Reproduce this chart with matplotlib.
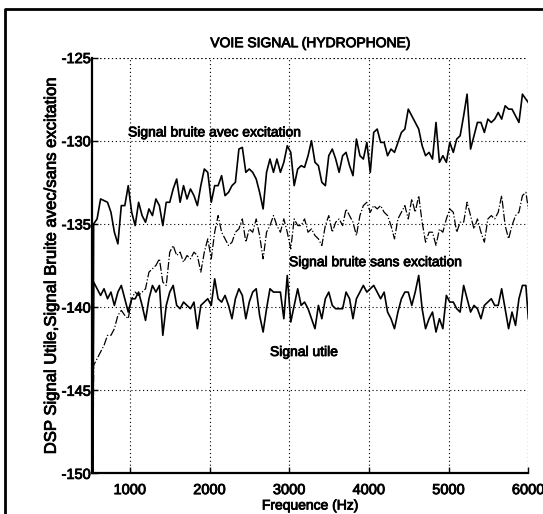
import numpy as np
import matplotlib
matplotlib.use("Agg")
import matplotlib.pyplot as plt
import matplotlib.patheffects as pe
from matplotlib.lines import Line2D

plt.rcParams['font.family'] = ['Liberation Sans', 'DejaVu Sans']

# frequency bins (Hz); first bin sits on the left edge of the band
freq_hz = [530,
    544, 587, 631, 674, 718, 761, 804, 848, 891, 935,
    978, 1021, 1065, 1108, 1152, 1195, 1238, 1282, 1325, 1369,
    1412, 1455, 1499, 1542, 1586, 1629, 1672, 1716, 1759, 1803,
    1846, 1889, 1933, 1976, 2020, 2063, 2106, 2150, 2193, 2237,
    2280, 2323, 2367, 2410, 2454, 2497, 2540, 2584, 2627, 2671,
    2714, 2757, 2801, 2844, 2888, 2931, 2974, 3018, 3061, 3105,
    3148, 3191, 3235, 3278, 3322, 3365, 3408, 3452, 3495, 3539,
    3582, 3625, 3669, 3712, 3756, 3799, 3842, 3886, 3929, 3973,
    4016, 4059, 4103, 4146, 4190, 4233, 4276, 4320, 4363, 4407,
    4450, 4493, 4537, 4580, 4624, 4667, 4710, 4754, 4797, 4841,
    4884, 4927, 4971, 5014, 5058, 5101, 5144, 5188, 5231, 5275,
    5318, 5361, 5405, 5448, 5492, 5535, 5578, 5622, 5665, 5709,
    5752, 5795, 5839, 5882, 5926, 5969, 6000]

# PSD, noisy signal with excitation (dB)
dsp_avec = [-155.0,
    -135.0, -134.7, -133.5, -133.6, -133.7, -134.3, -135.5, -136.2, -133.9, -133.9,
    -132.7, -134.3, -135.1, -133.7, -134.5, -134.9, -134.1, -134.5, -133.5, -133.9,
    -135.1, -133.7, -133.7, -132.9, -132.3, -133.7, -132.7, -133.5, -132.9, -133.3,
    -133.9, -132.7, -131.7, -131.9, -133.7, -132.7, -132.7, -132.1, -133.3, -133.1,
    -132.7, -132.5, -130.5, -130.4, -131.9, -131.7, -131.9, -132.3, -133.1, -134.1,
    -131.9, -131.1, -131.9, -131.1, -131.9, -131.3, -130.3, -130.7, -132.7, -131.7,
    -131.5, -131.6, -130.9, -130.0, -131.3, -131.5, -132.5, -132.7, -130.9, -130.5,
    -131.1, -131.9, -130.9, -130.7, -131.5, -132.1, -129.9, -130.9, -131.1, -130.1,
    -131.9, -129.5, -129.3, -130.1, -130.1, -130.9, -130.5, -130.7, -130.1, -129.5,
    -129.3, -128.1, -128.5, -128.9, -129.3, -130.3, -130.9, -130.7, -131.1, -128.9,
    -131.3, -130.9, -131.3, -130.1, -130.7, -129.9, -129.7, -128.5, -127.2, -130.5,
    -129.7, -128.9, -128.9, -129.5, -128.7, -128.9, -128.7, -128.3, -128.7, -127.9,
    -128.1, -128.1, -128.5, -128.9, -127.2, -127.5, -127.7]

# PSD, noisy signal without excitation (dB)
dsp_sans = [-155.0,
    -143.5, -143.1, -142.7, -142.3, -141.7, -141.7, -141.3, -140.5, -140.2, -140.5,
    -140.7, -139.5, -139.1, -139.3, -139.1, -138.9, -137.9, -137.7, -137.5, -137.1,
    -138.5, -138.7, -136.7, -136.3, -136.9, -136.7, -137.3, -136.9, -137.1, -136.7,
    -136.9, -137.9, -136.7, -135.9, -137.1, -135.5, -134.5, -135.5, -135.9, -136.3,
    -136.1, -135.5, -135.3, -134.7, -136.1, -135.3, -135.5, -134.7, -135.7, -137.1,
    -135.5, -135.1, -134.5, -135.1, -135.5, -134.7, -135.5, -136.5, -134.7, -135.1,
    -135.1, -134.7, -135.5, -135.3, -135.7, -135.9, -136.3, -135.1, -134.5, -135.5,
    -134.9, -134.7, -135.1, -134.1, -134.5, -134.9, -135.7, -134.5, -133.9, -133.7,
    -134.3, -133.9, -134.1, -133.9, -134.3, -134.5, -135.1, -135.9, -134.7, -134.3,
    -133.9, -134.7, -133.5, -134.3, -133.3, -134.9, -136.1, -135.5, -135.5, -136.3,
    -135.3, -135.5, -134.7, -134.1, -134.3, -135.5, -134.9, -134.9, -133.7, -134.5,
    -135.3, -134.7, -135.5, -136.1, -134.7, -134.5, -134.7, -134.3, -133.3, -135.1,
    -135.9, -135.1, -134.5, -134.3, -133.3, -133.1, -134.1]

# PSD, useful signal (dB)
dsp_utile = [-155.0,
    -138.5, -138.9, -139.3, -138.9, -139.5, -139.1, -139.9, -139.1, -138.7, -139.5,
    -140.3, -139.5, -139.5, -139.1, -139.9, -140.8, -139.5, -138.7, -139.1, -138.7,
    -141.7, -139.9, -139.1, -138.7, -139.9, -140.1, -139.7, -139.9, -140.1, -139.7,
    -141.3, -139.9, -139.7, -139.5, -139.9, -138.3, -139.5, -139.7, -139.3, -139.9,
    -140.7, -139.5, -138.9, -139.3, -140.7, -139.7, -139.1, -138.9, -140.5, -141.5,
    -140.1, -138.9, -139.1, -139.1, -139.1, -140.7, -138.1, -140.9, -139.9, -138.9,
    -139.9, -139.7, -140.1, -140.7, -141.3, -139.9, -140.7, -139.5, -139.1, -139.9,
    -140.1, -140.1, -140.1, -139.1, -139.5, -140.7, -139.5, -139.1, -138.7, -139.1,
    -138.9, -138.7, -139.1, -139.5, -139.1, -140.3, -140.7, -141.3, -140.3, -139.5,
    -139.1, -139.1, -139.9, -139.1, -138.1, -140.1, -141.3, -140.7, -140.3, -141.5,
    -140.7, -141.3, -139.3, -139.7, -139.7, -140.1, -140.3, -138.7, -139.5, -140.3,
    -139.9, -140.1, -140.7, -139.9, -139.7, -139.5, -139.9, -139.9, -138.9, -140.1,
    -141.3, -140.3, -141.1, -139.5, -138.7, -138.7, -140.7]

x_ticks = [1000, 2000, 3000, 4000, 5000, 6000]
y_ticks = [-150, -145, -140, -135, -130, -125]

# photocopied look: slightly heavier glyphs
ink = [pe.withStroke(linewidth=0.6, foreground='black')]

fig = plt.figure(figsize=(5.43, 5.14), dpi=100)
ax = fig.add_axes([0.170, 0.079, 0.803, 0.809])

ax.plot(freq_hz, dsp_avec, color='black', linewidth=1.2)
ax.plot(freq_hz, dsp_sans, color='black', linewidth=0.9, linestyle='-.')
ax.plot(freq_hz, dsp_utile, color='black', linewidth=1.2)

ax.set_xlim(527, 6000)
ax.set_ylim(-150, -125)
ax.set_xticks(x_ticks)
ax.set_yticks(y_ticks)
ax.set_xticklabels([str(v) for v in x_ticks])
ax.set_yticklabels([str(v) for v in y_ticks])

# dotted grid, also drawn on the open top/right edges
dots = (0, (1, 2.5))
ax.grid(True, color='black', linestyle=dots, linewidth=0.8)
ax.axhline(-125, color='black', linestyle=dots, linewidth=0.8)
ax.axvline(6000, color='black', linestyle=dots, linewidth=0.8)
for side in ['top', 'right']:
    ax.spines[side].set_visible(False)
for side in ['left', 'bottom']:
    ax.spines[side].set_linewidth(1.6)
ax.tick_params(axis='x', direction='in', length=4, width=1, labelsize=10.5, pad=7)
ax.tick_params(axis='y', direction='in', length=4, width=1, labelsize=10.5, pad=1)

texts = [
    ax.set_title('VOIE SIGNAL (HYDROPHONE)', fontsize=10, pad=7.5),
    ax.set_xlabel('Frequence (Hz)', fontsize=10, labelpad=1),
    ax.set_ylabel('DSP Signal Utile,Signal Bruite avec/sans excitation', fontsize=12, labelpad=2),
    ax.text(975, -129.5, 'Signal bruite avec excitation', fontsize=10, va='center'),
    ax.text(2996, -137.3, 'Signal bruite sans excitation', fontsize=10, va='center'),
    ax.text(2757, -142.7, 'Signal utile', fontsize=10, va='center'),
]
texts += ax.get_xticklabels() + ax.get_yticklabels()
for t in texts:
    t.set_path_effects(ink)

# frame of the page
fig.add_artist(Line2D([5 / 543, 5 / 543, 1.0], [0.0, 1 - 9 / 514, 1 - 9 / 514],
                      transform=fig.transFigure, color='black', linewidth=2))

fig.savefig('out.png', dpi=100)
